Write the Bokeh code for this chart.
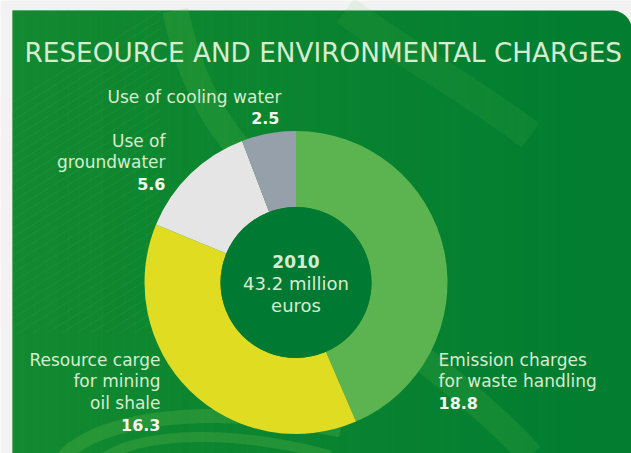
import numpy as np
from bokeh.plotting import figure
from bokeh.models import Range1d, ColumnDataSource
from bokeh.core.properties import value
from bokeh.embed import file_html
from bokeh.resources import INLINE

# ---------------- data ----------------
title_text = "RESEOURCE AND ENVIRONMENTAL CHARGES"
categories = ["Emission charges\nfor waste handling",
              "Resource carge\nfor mining\noil shale",
              "Use of\ngroundwater",
              "Use of cooling water"]
values = [18.8, 16.3, 5.6, 2.5]
value_labels = ["18.8", "16.3", "5.6", "2.5"]
year_label = "2010"
total_label = "43.2 million"
unit_label = "euros"
colors = ["#5bb44f", "#dfdc22", "#e5e5e5", "#95a0aa"]

# ---------------- layout ----------------
W, H = 631, 453
def X(ix): return ix
def Y(iy): return H - iy

p = figure(width=W, height=H, x_range=Range1d(0, W), y_range=Range1d(0, H),
           x_axis_type=None, y_axis_type=None, output_backend="svg",
           toolbar_location=None, min_border=0)
p.grid.visible = False
p.outline_line_color = None
p.background_fill_color = "#f2f2f2"
p.border_fill_color = "#f2f2f2"

# panel with rounded top-right corner
x0, x1, y0, y1, rc = X(12), W + 0.5, -1, Y(10), 20
t = np.linspace(0, np.pi / 2, 20)
px = [x0, x0] + list(x1 - rc + rc * np.cos(np.pi / 2 - t)) + [x1]
py = [y0, y1] + list(y1 - rc + rc * np.sin(np.pi / 2 - t)) + [y0]
p.patch(px, py, fill_color="#037e31", line_color=None)

# horizontal gradient (lighter on the left)
n = 50
xs = np.linspace(x0, 570, n + 1)
for i in range(n):
    a = 0.55 * (1 - i / n)
    p.quad(left=xs[i], right=xs[i + 1] + 0.6, bottom=y0, top=y1,
           fill_color="#1f9330", fill_alpha=a, line_color=None)

# diagonal hatch lines on the left
hx, hy = [], []
for k in range(-60, 40):
    xx = np.linspace(x0, 160, 80)
    yy = (xx - x0) * 0.62 + k * 9
    m = (yy > 120) & (yy < y1)
    if m.sum() > 1:
        hx.append(list(xx[m])); hy.append(list(yy[m]))
p.multi_line(hx, hy, line_color="#8fd878", line_alpha=0.09, line_width=1)

# decorative bands
def bez(P, m=60):
    P = np.array(P, dtype=float)
    tt = np.linspace(0, 1, m)[:, None]
    return ((1 - tt) ** 3 * P[0] + 3 * (1 - tt) ** 2 * tt * P[1]
            + 3 * (1 - tt) * tt ** 2 * P[2] + tt ** 3 * P[3])

bands = [
    ([(X(175), Y(10)), (X(185), Y(60)), (X(205), Y(110)), (X(240), Y(150))], 26, 0.18),
    ([(X(345), Y(10)), (X(400), Y(50)), (X(470), Y(90)), (X(530), Y(135))], 30, 0.10),
    ([(X(405), Y(345)), (X(450), Y(380)), (X(500), Y(420)), (X(530), Y(455))], 26, 0.16),
    ([(X(60), Y(460)), (X(90), Y(420)), (X(200), Y(400)), (X(340), Y(430))], 14, 0.25),
    ([(X(100), Y(460)), (X(130), Y(435)), (X(220), Y(425)), (X(330), Y(455))], 10, 0.25),
]
for P, w, a in bands:
    c = bez(P)
    p.line(c[:, 0], c[:, 1], line_width=w, line_color="#6cc04a", line_alpha=a)

# ---------------- donut ----------------
cx, cy, R, r = X(295.5), Y(282), 151.5, 75.5
total = sum(values)
ang = np.cumsum([0] + [v / total * 2 * np.pi for v in values])
start = np.pi / 2 - ang[1:]
end = np.pi / 2 - ang[:-1]
src = ColumnDataSource(dict(start=start, end=end, color=colors, cat=categories, val=values))
p.annular_wedge(x=cx, y=cy, inner_radius=r, outer_radius=R, start_angle="start",
                end_angle="end", fill_color="color", line_color=None, source=src)
p.circle(x=cx, y=cy, radius=r, fill_color="#007a33", line_color=None)

# ---------------- texts ----------------
font = value("DejaVu Sans")
light = "#d6ecd0"
bright = "#f2f8ef"

p.text(x=[X(24)], y=[Y(52)], text=[title_text], text_font=font, text_font_size="26.3px",
       text_color=light, text_baseline="middle", text_align="left")

# label anchors: (x, first line y, align)
anchors = [(X(438), Y(359), "left"), (X(160), Y(359), "right"),
           (X(165), Y(140), "right"), (X(281), Y(96), "right")]
val_dx = [0, 0, 0, -2]
lx, ly, lt, la = [], [], [], []
vx, vy, vt, va = [], [], [], []
for cat, vl, (ax, ay, al), dx in zip(categories, value_labels, anchors, val_dx):
    lines = cat.split("\n")
    for j, ln in enumerate(lines):
        lx.append(ax); ly.append(ay - 21.7 * j); lt.append(ln); la.append(al)
    vx.append(ax + dx); vy.append(ay - 21.7 * len(lines)); vt.append(vl); va.append(al)

p.text(x="x", y="y", text="t", text_align="a",
       source=ColumnDataSource(dict(x=lx, y=ly, t=lt, a=la)),
       text_font=font, text_font_size="17px", text_color=light, text_baseline="middle")
p.text(x="x", y="y", text="t", text_align="a",
       source=ColumnDataSource(dict(x=vx, y=vy, t=vt, a=va)),
       text_font=font, text_font_size="16px", text_font_style="bold",
       text_color=bright, text_baseline="middle")

p.text(x=[cx], y=[Y(261)], text=[year_label], text_font=font, text_font_size="17px",
       text_font_style="bold", text_color=light, text_align="center", text_baseline="middle")
p.text(x=[cx, cx], y=[Y(283), Y(305)], text=[total_label, unit_label], text_font=font,
       text_font_size="18px", text_color=light, text_align="center", text_baseline="middle")

open("out.html", "w").write(file_html(p, INLINE))
